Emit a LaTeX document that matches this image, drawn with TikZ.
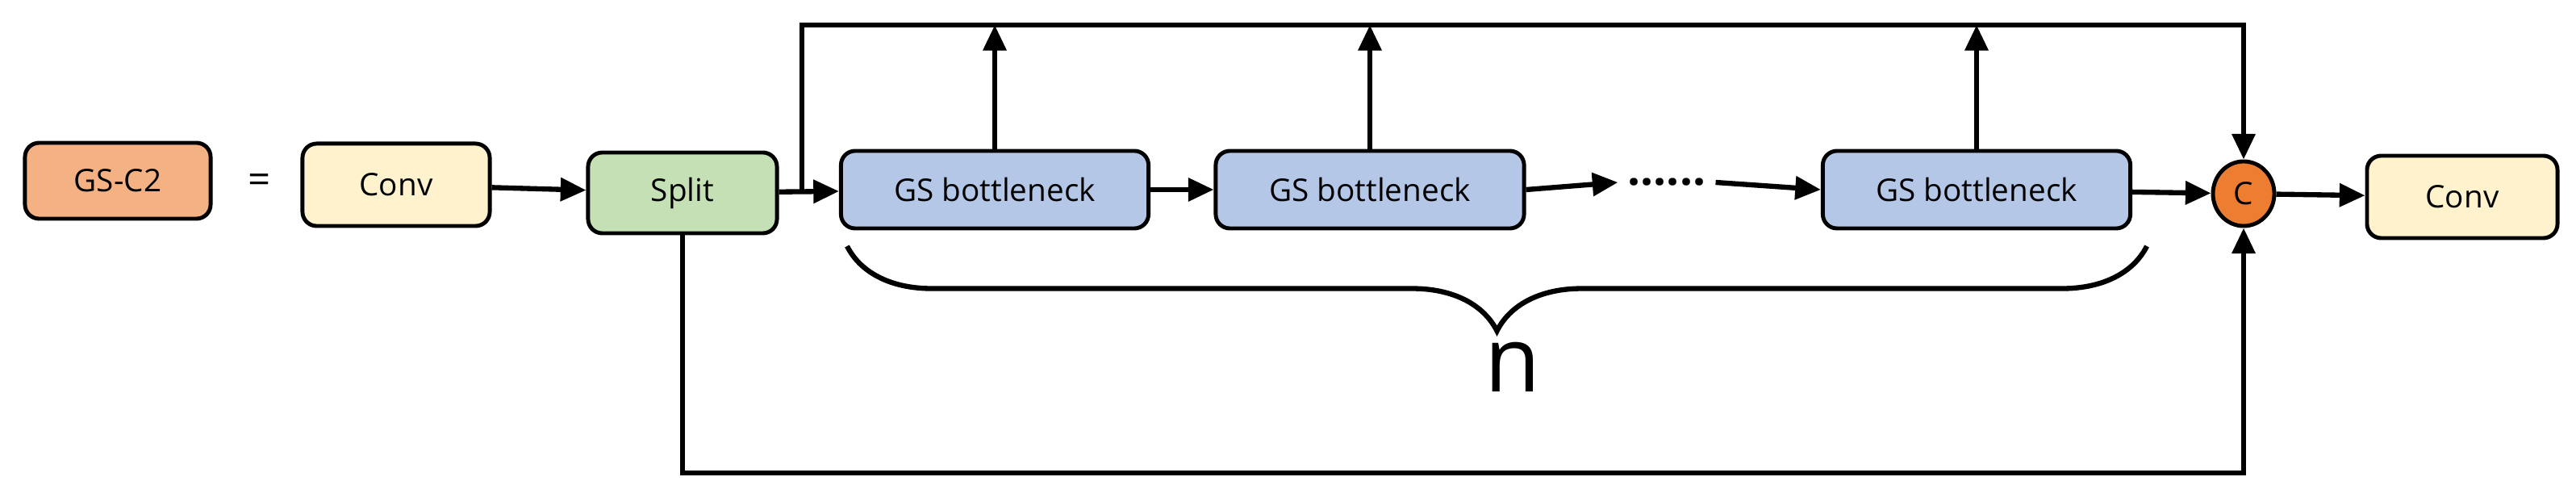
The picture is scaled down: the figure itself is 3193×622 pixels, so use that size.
\documentclass[tikz,border=0pt]{standalone}
\usepackage{fontspec}
\setmainfont{Open Sans}
\usetikzlibrary{arrows.meta,decorations.pathreplacing,shapes.geometric}
\definecolor{cOr}{HTML}{F4B183}
\definecolor{cCv}{HTML}{FFF2CC}
\definecolor{cSp}{HTML}{C5E0B4}
\definecolor{cGS}{HTML}{B4C7E7}
\definecolor{cC}{HTML}{ED7D31}
\begin{document}
\begin{tikzpicture}[x=0.01cm,y=-0.01cm,
  box/.style={draw,line width=1.4pt,rounded corners=5pt,inner sep=0pt,font=\fontsize{11}{13}\selectfont},
  ar/.style={line width=1.8pt,-{Triangle[length=9pt,width=8pt]}},
  ln/.style={line width=1.8pt}]
\useasboundingbox (0,0) rectangle (3193,622);
\node[box,fill=cOr,minimum width=2.3cm,minimum height=0.94cm] (g) at (146,224) {GS-C2};
\node[font=\fontsize{14}{16}\selectfont] (eq) at (322,228) {=};
\node[box,fill=cCv,minimum width=2.32cm,minimum height=1.02cm] (c1) at (491,229) {Conv};
\node[box,fill=cSp,minimum width=2.34cm,minimum height=1.0cm] (sp) at (846,239) {Split};
\node[box,fill=cGS,minimum width=3.81cm,minimum height=0.96cm] (b1) at (1233,235) {GS bottleneck};
\node[box,fill=cGS,minimum width=3.82cm,minimum height=0.96cm] (b2) at (1698,235) {GS bottleneck};
\node[font=\fontsize{16}{18}\selectfont] (dots) at (2066,226) {\textbf{......}};
\node[box,fill=cGS,minimum width=3.81cm,minimum height=0.96cm] (b3) at (2450,235) {GS bottleneck};
\node[draw,line width=1.4pt,ellipse,fill=cC,minimum width=0.76cm,minimum height=0.8cm,inner sep=0pt,font=\fontsize{11}{13}\selectfont] (cc) at (2781,240) {C};
\node[box,fill=cCv,minimum width=2.36cm,minimum height=1.02cm] (c2) at (3052,244) {Conv};
\draw[ar] (c1) -- (sp);
\draw[ar] (sp) -- (b1);
\draw[ar] (b1) -- (b2);
\draw[ar] (b2.east) -- (dots.west);
\draw[ar] (dots.east) -- (b3.west);
\draw[ar] (b3) -- (cc);
\draw[ar] (cc) -- (c2);
\coordinate (t0) at (994,239);
\coordinate (tr) at (2781,31);
\draw[ar] (t0) |- (tr) -- (cc.north);
\foreach \b in {b1,b2,b3}{ \draw[ar] (\b.north) -- (\b.north |- tr); }
\coordinate (br) at (2781,586);
\draw[ar] (sp.south) |- (br) -- (cc.south);
\draw[ln,decorate,decoration={brace,mirror,amplitude=1.05cm,aspect=0.5}] (1050,305) -- (2661,305);
\node[font=\fontsize{32}{34}\selectfont] (n) at (1875,455) {n};
\end{tikzpicture}
\end{document}
